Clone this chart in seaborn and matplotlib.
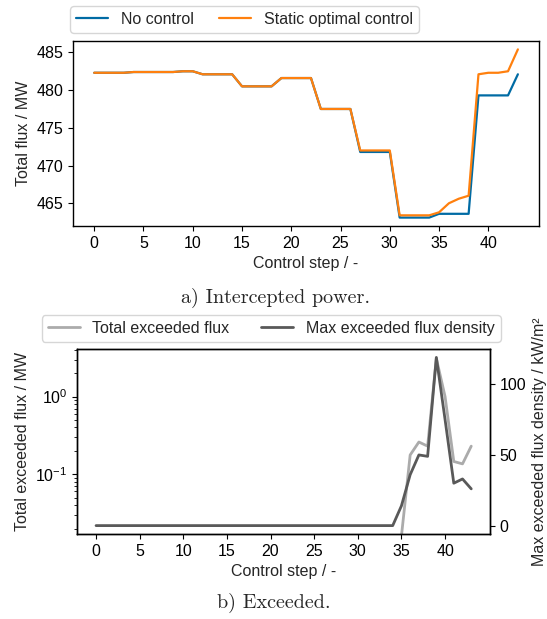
import matplotlib
matplotlib.use("Agg")
import matplotlib.pyplot as plt
from matplotlib.lines import Line2D
import numpy as np
import pandas as pd
import seaborn as sns

# --- data ---
steps = list(range(44))

no_control = [482.3, 482.3, 482.3, 482.3, 482.4, 482.4, 482.4, 482.4, 482.4, 482.5,
              482.5, 482.1, 482.1, 482.1, 482.1, 480.5, 480.5, 480.5, 480.5, 481.6,
              481.6, 481.6, 481.6, 477.5, 477.5, 477.5, 477.5, 471.8, 471.8, 471.8,
              471.8, 463.1, 463.1, 463.1, 463.1, 463.6, 463.6, 463.6, 463.6, 479.3,
              479.3, 479.3, 479.3, 482.1]
static_optimal = [482.3, 482.3, 482.3, 482.3, 482.4, 482.4, 482.4, 482.4, 482.4, 482.5,
                  482.5, 482.1, 482.1, 482.1, 482.1, 480.5, 480.5, 480.5, 480.5, 481.6,
                  481.6, 481.6, 481.6, 477.5, 477.5, 477.5, 477.5, 472.0, 472.0, 472.0,
                  472.0, 463.4, 463.4, 463.4, 463.4, 463.8, 465.0, 465.6, 466.0, 482.1,
                  482.3, 482.3, 482.5, 485.4]

# MW, log axis (zeros fall off the bottom)
total_exceeded = [0.0] * 35 + [0.016, 0.177, 0.26, 0.23, 3.1, 1.0, 0.146, 0.136, 0.23]
# kW/m²
max_exceeded_density = [0.0] * 35 + [14, 36, 50, 49, 119, 75, 30, 33, 26]

labels_top = ["No control", "Static optimal control"]
labels_bottom = ["Total exceeded flux", "Max exceeded flux density"]

sns.set_style("ticks")
plt.rcParams.update({
    "font.family": ["Liberation Sans", "DejaVu Sans"],
    "font.size": 11.5,
    "mathtext.fontset": "custom",
    "mathtext.rm": "Liberation Sans",
    "mathtext.it": "Liberation Sans:italic",
    "axes.edgecolor": "black",
    "axes.linewidth": 1.0,
    "xtick.color": "black",
    "ytick.color": "black",
    "xtick.major.size": 3.5,
    "ytick.major.size": 3.5,
})

c_blue, c_orange, c_gray, c_dark = "#006BA4", "#FF800E", "#ABABAB", "#595959"

fig = plt.figure(figsize=(5.47, 6.19), dpi=100)

# --- a) intercepted power ---
df_top = pd.DataFrame({"step": steps, "no": no_control, "opt": static_optimal})
ax1 = fig.add_axes([0.1335, 0.6349, 0.852, 0.2989])
sns.lineplot(data=df_top, x="step", y="no", color=c_blue, lw=1.6, ax=ax1)
sns.lineplot(data=df_top, x="step", y="opt", color=c_orange, lw=1.6, ax=ax1)
ax1.set_xticks(range(0, 41, 5))
ax1.set_yticks([465, 470, 475, 480, 485])
ax1.set_xlabel("Control step / -")
ax1.set_ylabel("Total flux / MW")

fig.legend(handles=[Line2D([], [], color=c_blue, lw=1.6),
                    Line2D([], [], color=c_orange, lw=1.6)],
           labels=labels_top, ncol=2, loc="center",
           bbox_to_anchor=(0.447, 0.9685), frameon=True, edgecolor="#cccccc",
           columnspacing=1.6, borderpad=0.35)

fig.text(0.504, 0.5186, "a) Intercepted power.", ha="center", va="center",
         family="cmr10", fontsize=14.5)

# --- b) exceeded ---
df_bot = pd.DataFrame({"step": steps, "total": total_exceeded,
                       "maxd": max_exceeded_density})
ax2 = fig.add_axes([0.1413, 0.1373, 0.7545, 0.2989])
sns.lineplot(data=df_bot, x="step", y="total", color=c_gray, lw=2.0, ax=ax2)
ax2.set_yscale("log", nonpositive="clip")
ax2.set_ylim(0.017, 4.1)
ax2.set_xticks(range(0, 41, 5))
ax2.set_xlabel("Control step / -")
ax2.set_ylabel("Total exceeded flux / MW")

ax3 = ax2.twinx()
sns.lineplot(data=df_bot, x="step", y="maxd", color=c_dark, lw=2.0, ax=ax3)
ax3.set_yticks([0, 50, 100])
ax3.set_ylabel("Max exceeded flux density / kW/m²")
for s in ax3.spines.values():
    s.set_color("black")

fig.legend(handles=[Line2D([], [], color=c_gray, lw=2.0),
                    Line2D([], [], color=c_dark, lw=2.0)],
           labels=labels_bottom, ncol=2, loc="center",
           bbox_to_anchor=(0.496, 0.4693), frameon=True, edgecolor="#cccccc",
           columnspacing=2.0, borderpad=0.35)

fig.text(0.5, 0.0258, "b) Exceeded.", ha="center", va="center",
         family="cmr10", fontsize=14.5)

fig.savefig("out.png", dpi=100)
